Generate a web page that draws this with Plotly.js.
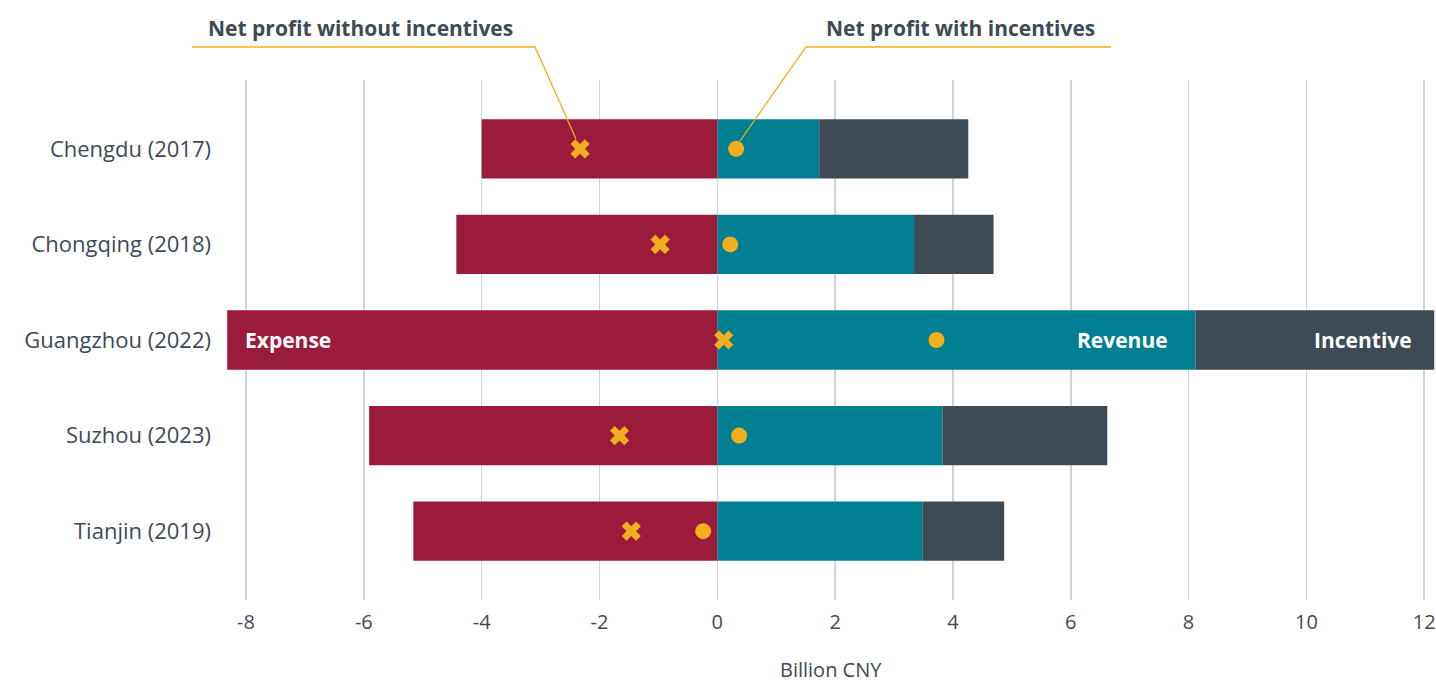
<!DOCTYPE html>
<html>
<head>
<meta charset="utf-8">
<script src="https://cdn.plot.ly/plotly-3.0.1.min.js"></script>
<style>html,body{margin:0;padding:0;background:#fff;}#chart{width:1436px;height:682px;}</style>
</head>
<body>
<div id="chart"></div>
<script>
const categories = ["Chengdu (2017)", "Chongqing (2018)", "Guangzhou (2022)", "Suzhou (2023)", "Tianjin (2019)"];
const expense = [-4.0, -4.43, -8.32, -5.91, -5.16];
const revenue = [1.73, 3.34, 8.12, 3.82, 3.48];
const incentive = [2.53, 1.35, 4.05, 2.80, 1.39];
const netWithout = [-2.33, -0.97, 0.11, -1.66, -1.46];
const netWith = [0.32, 0.22, 3.72, 0.37, -0.24];
const xTicks = [-8, -6, -4, -2, 0, 2, 4, 6, 8, 10, 12];
const xTitle = 'Billion CNY';

const FONT = "Open Sans, Lato, sans-serif";
const TXT = "#3e4a55";
const GOLD = "#f2ae1c";

const traces = [
  {type:'bar', orientation:'h', name:'Expense', y:categories, x:expense, marker:{color:'#9b1b3c'}, width:0.62, hoverinfo:'x'},
  {type:'bar', orientation:'h', name:'Revenue', y:categories, x:revenue, marker:{color:'#007e92'}, width:0.62, hoverinfo:'x'},
  {type:'bar', orientation:'h', name:'Incentive', y:categories, x:incentive, marker:{color:'#3e4b55'}, width:0.62, hoverinfo:'x'},
  {type:'scatter', mode:'markers', name:'Net profit without incentives', y:categories, x:netWithout, marker:{symbol:'x', size:17, color:GOLD}, cliponaxis:false},
  {type:'scatter', mode:'markers', name:'Net profit with incentives', y:categories, x:netWith, marker:{symbol:'circle', size:16, color:GOLD}, cliponaxis:false}
];

const gi = categories.indexOf("Guangzhou (2022)");
const px = v => (v - 226) / 1210;
const py = v => (600 - v) / 520;

const layout = {
  width:1436, height:682,
  margin:{l:226, r:0, t:80, b:82},
  paper_bgcolor:'#fff', plot_bgcolor:'#fff',
  barmode:'relative',
  showlegend:false,
  font:{family:FONT, color:TXT},
  xaxis:{range:[-8.34, 12.2], tickvals:xTicks, ticktext:xTicks.map(String), showgrid:true, gridcolor:'#d3d3d3', gridwidth:1.5, zeroline:false, showline:false, ticks:'', tickfont:{size:20, color:TXT}, ticklabelstandoff:8},
  yaxis:{type:'category', categoryorder:'array', categoryarray:categories, autorange:false, range:[4.72, -0.72], showgrid:false, zeroline:false, showline:false, ticks:'', tickfont:{size:22, color:TXT}, ticklabelstandoff:14},
  shapes:[
    {type:'path', xref:'paper', yref:'paper', path:`M ${px(192)} ${py(47)} L ${px(535)} ${py(47)} L ${px(576)} ${py(139)}`, line:{color:GOLD, width:1.3}},
    {type:'path', xref:'paper', yref:'paper', path:`M ${px(1111)} ${py(47)} L ${px(806)} ${py(47)} L ${px(740)} ${py(141)}`, line:{color:GOLD, width:1.3}}
  ],
  annotations:[
    {xref:'paper', yref:'paper', x:0.5, y:py(669), xanchor:'center', yanchor:'middle', borderpad:0, text:xTitle, showarrow:false, font:{size:20, color:TXT}},
    {xref:'paper', yref:'paper', x:px(360), y:py(28), xanchor:'center', yanchor:'middle', text:'<b>Net profit without incentives</b>', showarrow:false, font:{size:21, color:TXT}},
    {xref:'paper', yref:'paper', x:px(960), y:py(28), xanchor:'center', yanchor:'middle', text:'<b>Net profit with incentives</b>', showarrow:false, font:{size:21, color:TXT}},
    {xref:'x', yref:'y', x:expense[gi], y:categories[gi], xanchor:'left', yanchor:'middle', xshift:16, text:'<b>Expense</b>', showarrow:false, font:{size:21, color:'#fff'}},
    {xref:'x', yref:'y', x:revenue[gi], y:categories[gi], xanchor:'right', yanchor:'middle', xshift:-26, text:'<b>Revenue</b>', showarrow:false, font:{size:21, color:'#fff'}},
    {xref:'x', yref:'y', x:revenue[gi] + incentive[gi], y:categories[gi], xanchor:'right', yanchor:'middle', xshift:-20, text:'<b>Incentive</b>', showarrow:false, font:{size:21, color:'#fff'}}
  ]
};

Plotly.newPlot('chart', traces, layout, {displayModeBar:false, staticPlot:true});
</script>
</body>
</html>
